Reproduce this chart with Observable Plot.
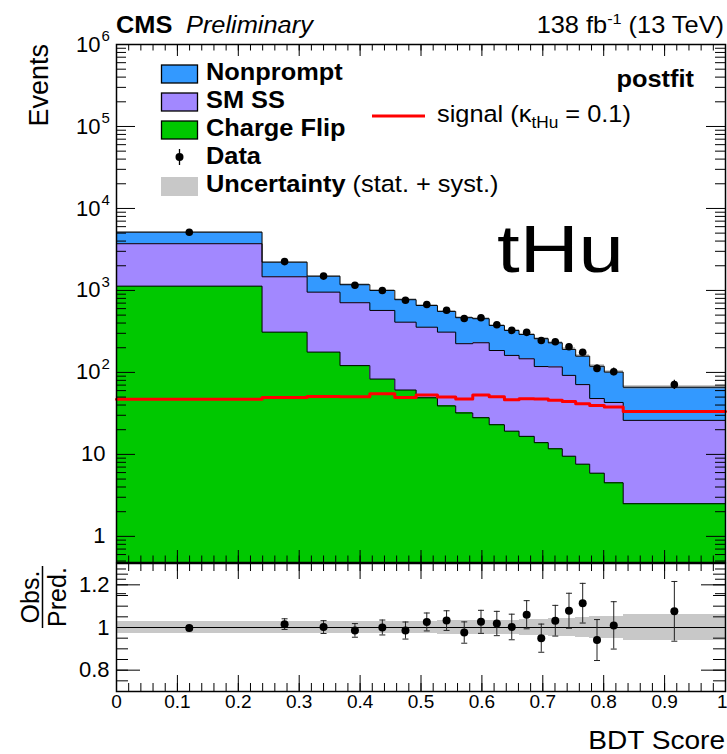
<!DOCTYPE html>
<html>
<head>
<meta charset="utf-8">
<script src="https://cdn.jsdelivr.net/npm/d3@7"></script>
<script src="https://cdn.jsdelivr.net/npm/@observablehq/plot@0.6"></script>
<style>
  html, body { margin: 0; padding: 0; background: #fff; }
  #chart { position: relative; width: 727px; height: 754px; overflow: hidden;
           font-family: "Liberation Sans", Arial, Helvetica, sans-serif; }
  #chart svg { position: absolute; left: 0; top: 0; }
</style>
</head>
<body>
<div id="chart"></div>
<script>
// ---- BDT score binning (20 variable-width bins) ----
const binEdges = [0, 0.239, 0.313, 0.367, 0.416, 0.457, 0.492, 0.527, 0.557, 0.585, 0.612,
                  0.637, 0.661, 0.686, 0.709, 0.732, 0.754, 0.777, 0.801, 0.832, 1.0];

// ---- postfit background yields per bin ----
const chargeFlip = [1128, 310, 177, 121, 83, 61, 49, 39, 32, 28, 23, 19.2, 16.6, 13.9, 11.7, 9.5, 7.6, 5.9, 4.5, 2.5];
const smSS       = [2587, 1158, 776, 587, 487, 349, 307, 271, 192, 202, 162, 142, 130, 104, 105, 82.5, 63.4, 42.1, 38.5, 23.5];
const nonprompt  = [1425, 745, 540, 466, 430, 361, 300, 245, 241, 222, 189, 164, 144, 140, 113, 99, 87, 71, 58, 40];

// ---- signal (kappa_tHu = 0.1) ----
const signal = [46.9, 49.6, 51, 50.5, 55, 49.6, 52.9, 50, 47.3, 52.9, 50.5, 46.5, 47.8, 47.3, 45.6, 44.3, 41.5, 39.6, 37.8, 33.4];

// ---- observed data and uncertainties ----
const observed = [5125, 2248, 1496, 1158, 1000, 760, 673, 573, 454, 464, 381, 326, 308, 245, 237, 206, 176, 112, 102, 71];
const ratioErr = [0.012, 0.025, 0.03, 0.032, 0.035, 0.04, 0.042, 0.046, 0.05, 0.054, 0.057, 0.06, 0.066, 0.066, 0.072, 0.082, 0.093, 0.096, 0.111, 0.14];
const bkgRelUnc = [0.028, 0.028, 0.029, 0.027, 0.027, 0.028, 0.030, 0.032, 0.033, 0.034, 0.035, 0.035, 0.036, 0.038, 0.040, 0.042, 0.046, 0.050, 0.052, 0.060];

// ---- axis ticks and labels ----
const xMajorTicks = [0, 0.1, 0.2, 0.3, 0.4, 0.5, 0.6, 0.7, 0.8, 0.9, 1];
const xTickLabels = ["0", "0.1", "0.2", "0.3", "0.4", "0.5", "0.6", "0.7", "0.8", "0.9", "1"];
const yDecades    = [1, 10, 100, 1e3, 1e4, 1e5, 1e6];
const yDecadeBase = ["1", "10", "10", "10", "10", "10", "10"];
const yDecadeExp  = ["", "", "2", "3", "4", "5", "6"];
const ratioTicks  = [0.8, 1, 1.2];
const ratioLabels = ["0.8", "1", "1.2"];

const colors = {
  nonprompt: "#3399ff",
  smss: "#a288ff",
  chargeFlip: "#00c800",
  signal: "#ff0000",
  band: "#c8c8c8"
};
const FONT = '"Liberation Sans", Arial, Helvetica, sans-serif';

// ---- derived per-bin table ----
const bins = binEdges.slice(0, -1).map((x1, i) => {
  const x2 = binEdges[i + 1];
  const cf = chargeFlip[i];
  const sm = cf + smSS[i];
  const tot = sm + nonprompt[i];
  const ratio = observed[i] / tot;
  return {
    x1, x2, xc: (x1 + x2) / 2, cf, sm, tot, sig: signal[i], obs: observed[i],
    obsLo: observed[i] - ratioErr[i] * tot, obsHi: observed[i] + ratioErr[i] * tot,
    bandLo: tot * (1 - bkgRelUnc[i]), bandHi: tot * (1 + bkgRelUnc[i]),
    ratio, rLo: ratio - ratioErr[i], rHi: ratio + ratioErr[i],
    uLo: 1 - bkgRelUnc[i], uHi: 1 + bkgRelUnc[i]
  };
});
const steps = key => bins.flatMap(b => [{x: b.x1, y: b[key]}, {x: b.x2, y: b[key]}]);

// ---- layout ----
const W = 727, H = 754, mL = 116, mR = 2;
const upTop = 44, upBottom = 562, loTop = 563, loBottom = 691;
const frameW = W - mL - mR;
const upH = upBottom - upTop, loH = loBottom - loTop;
const yMin = 0.48;

const yMinor = [];
for (const d of [0.1, 1, 10, 100, 1e3, 1e4, 1e5]) for (let k = 2; k <= 9; k++) yMinor.push(k * d);
const xMinor = d3.range(0, 51).map(i => i / 50);
const ratioMinor = d3.range(14, 27).map(i => i / 20);

const tickRules = (values, axis, len, side, extent) => {
  const o = {stroke: "#000", strokeWidth: 1};
  if (axis === "y") {
    o[side === "left" ? "insetRight" : "insetLeft"] = extent - len;
    return Plot.ruleY(values, o);
  }
  o[side === "top" ? "insetBottom" : "insetTop"] = extent - len;
  return Plot.ruleX(values, o);
};
const crisp = {shapeRendering: "crispEdges"};

// ---- upper panel: stacked backgrounds, signal, data ----
const upper = Plot.plot({
  width: W, height: H,
  marginLeft: mL, marginRight: mR, marginTop: upTop, marginBottom: H - upBottom,
  style: {background: "transparent", fontFamily: FONT, overflow: "visible"},
  x: {domain: [0, 1], axis: null},
  y: {type: "log", domain: [yMin, 1e6], axis: null},
  marks: [
    Plot.rect(bins, {x1: "x1", x2: "x2", y1: yMin, y2: "tot", fill: colors.nonprompt, ...crisp}),
    Plot.rect(bins, {x1: "x1", x2: "x2", y1: yMin, y2: "sm", fill: colors.smss, ...crisp}),
    Plot.rect(bins, {x1: "x1", x2: "x2", y1: yMin, y2: "cf", fill: colors.chargeFlip, ...crisp}),
    Plot.rect(bins, {x1: "x1", x2: "x2", y1: "bandLo", y2: "bandHi", fill: "#888", fillOpacity: 0.45, ...crisp}),
    Plot.line(steps("tot"), {x: "x", y: "y", stroke: "#000", strokeWidth: 1}),
    Plot.line(steps("sm"), {x: "x", y: "y", stroke: "#000", strokeWidth: 1}),
    Plot.line(steps("cf"), {x: "x", y: "y", stroke: "#000", strokeWidth: 1}),
    Plot.line(steps("sig"), {x: "x", y: "y", stroke: colors.signal, strokeWidth: 3}),
    Plot.ruleX(bins, {x: "xc", y1: "obsLo", y2: "obsHi", stroke: "#000", strokeWidth: 1.2}),
    Plot.dot(bins, {x: "xc", y: "obs", r: 3.8, fill: "#000"}),
    // ROOT-style inward ticks on all four sides
    tickRules(yDecades, "y", 19, "left", frameW),
    tickRules(yDecades, "y", 19, "right", frameW),
    tickRules(yMinor, "y", 10, "left", frameW),
    tickRules(yMinor, "y", 10, "right", frameW),
    tickRules(xMajorTicks, "x", 12, "top", upH),
    tickRules(xMajorTicks, "x", 12, "bottom", upH),
    tickRules(xMinor, "x", 6.5, "top", upH),
    tickRules(xMinor, "x", 6.5, "bottom", upH),
    Plot.frame({stroke: "#000", strokeWidth: 1.5}),
    // decade labels: plain ones and 10^n with a raised exponent
    Plot.text(yDecades.filter((d, i) => !yDecadeExp[i]), {
      y: d => d, text: d => yDecadeBase[yDecades.indexOf(d)],
      frameAnchor: "left", textAnchor: "end", dx: -11, fontSize: 22, fill: "#000"
    }),
    Plot.text(yDecades.filter((d, i) => yDecadeExp[i]), {
      y: d => d, text: d => yDecadeBase[yDecades.indexOf(d)],
      frameAnchor: "left", textAnchor: "end", dx: -16, fontSize: 22, fill: "#000"
    }),
    Plot.text(yDecades.filter((d, i) => yDecadeExp[i]), {
      y: d => d, text: d => yDecadeExp[yDecades.indexOf(d)],
      frameAnchor: "left", textAnchor: "start", dx: -15, dy: -8, fontSize: 15, fill: "#000"
    })
  ]
});

// ---- lower panel: Obs./Pred. ratio ----
const capSymbol = {draw(ctx) { ctx.moveTo(-3, 0); ctx.lineTo(3, 0); }};
const lastX = xMajorTicks.length - 1;
const lower = Plot.plot({
  width: W, height: H,
  marginLeft: mL, marginRight: mR, marginTop: loTop, marginBottom: H - loBottom,
  style: {background: "transparent", fontFamily: FONT, overflow: "visible"},
  x: {domain: [0, 1], axis: null},
  y: {domain: [0.7, 1.3], axis: null},
  marks: [
    Plot.rect(bins, {x1: "x1", x2: "x2", y1: "uLo", y2: "uHi", fill: colors.band, ...crisp}),
    Plot.ruleY([1], {stroke: "#000", strokeWidth: 1.2}),
    Plot.ruleX(bins, {x: "xc", y1: "rLo", y2: "rHi", stroke: "#222", strokeWidth: 1}),
    Plot.dot(bins, {x: "xc", y: "rLo", symbol: capSymbol, stroke: "#222", strokeWidth: 1}),
    Plot.dot(bins, {x: "xc", y: "rHi", symbol: capSymbol, stroke: "#222", strokeWidth: 1}),
    Plot.dot(bins, {x: "xc", y: "ratio", r: 4, fill: "#000"}),
    tickRules(ratioTicks, "y", 24, "left", frameW),
    tickRules(ratioTicks, "y", 24, "right", frameW),
    tickRules(ratioMinor, "y", 12, "left", frameW),
    tickRules(ratioMinor, "y", 12, "right", frameW),
    tickRules(xMajorTicks, "x", 16, "top", loH),
    tickRules(xMajorTicks, "x", 16, "bottom", loH),
    tickRules(xMinor, "x", 8, "top", loH),
    tickRules(xMinor, "x", 8, "bottom", loH),
    Plot.frame({stroke: "#000", strokeWidth: 1.5}),
    Plot.text(ratioTicks, {
      y: d => d, text: (d, i) => ratioLabels[i],
      frameAnchor: "left", textAnchor: "end", dx: -7, fontSize: 22, fill: "#000"
    }),
    Plot.text(xMajorTicks.slice(0, lastX), {
      x: d => d, text: (d, i) => xTickLabels[i],
      frameAnchor: "bottom", lineAnchor: "top", dy: 3, fontSize: 19, fill: "#000"
    }),
    // the last label sits against the right edge of the canvas
    Plot.text(xMajorTicks.slice(lastX), {
      x: d => d, text: () => xTickLabels[lastX],
      frameAnchor: "bottom", lineAnchor: "top", textAnchor: "end", dx: 2, dy: 3, fontSize: 19, fill: "#000"
    })
  ]
});

const chart = document.getElementById("chart");
chart.append(upper, lower);

// ---- titles, legend and annotations ----
const svg = d3.select(chart).append("svg")
  .attr("width", W).attr("height", H)
  .style("font-family", FONT);

const SX = 1.08;       // slightly wide Helvetica-style lettering
const FS = 23.5;
function label(x, y, {size = FS, weight = "normal", style = "normal", anchor = "start", sx = SX, rotate = 0} = {}) {
  const g = svg.append("g").attr("transform",
    `translate(${x},${y})` + (rotate ? ` rotate(${rotate})` : "") + (sx !== 1 ? ` scale(${sx},1)` : ""));
  return g.append("text")
    .attr("font-size", size).attr("font-weight", weight).attr("font-style", style)
    .attr("text-anchor", anchor).attr("fill", "#000");
}

// header
label(116, 33, {weight: "bold"}).text("CMS");
label(186, 33, {style: "italic"}).text("Preliminary");
const lumi = label(724, 33, {anchor: "end"});
lumi.append("tspan").text("138 fb");
lumi.append("tspan").attr("dy", -9).attr("font-size", 15).text("-1");
lumi.append("tspan").attr("dy", 9).text(" (13 TeV)");

// legend (left column)
const legendRows = [
  {name: "Nonprompt", fill: colors.nonprompt, y: 80},
  {name: "SM SS", fill: colors.smss, y: 108},
  {name: "Charge Flip", fill: colors.chargeFlip, y: 136}
];
for (const r of legendRows) {
  svg.append("rect").attr("x", 161.5).attr("y", r.y - 15).attr("width", 36).attr("height", 18)
    .attr("fill", r.fill).attr("stroke", "#000").attr("stroke-width", 1.3);
  label(206, r.y, {weight: "bold"}).text(r.name);
}
svg.append("line").attr("x1", 179.5).attr("x2", 179.5).attr("y1", 149).attr("y2", 165)
  .attr("stroke", "#000").attr("stroke-width", 1.3);
svg.append("circle").attr("cx", 179.5).attr("cy", 157).attr("r", 4).attr("fill", "#000");
label(206, 164, {weight: "bold"}).text("Data");
svg.append("rect").attr("x", 161).attr("y", 177).attr("width", 37).attr("height", 19).attr("fill", colors.band);
const unc = label(206, 192);
unc.append("tspan").attr("font-weight", "bold").text("Uncertainty");
unc.append("tspan").text(" (stat. + syst.)");

// signal legend
svg.append("line").attr("x1", 372).attr("x2", 425).attr("y1", 116).attr("y2", 116)
  .attr("stroke", colors.signal).attr("stroke-width", 3);
const sig = label(437, 122);
sig.append("tspan").text("signal (\u03BA");
sig.append("tspan").attr("dy", 6).attr("font-size", 16).text("tHu");
sig.append("tspan").attr("dy", -6).text(" = 0.1)");

label(694, 87, {weight: "bold", anchor: "end"}).text("postfit");

svg.append("text").attr("x", 497).attr("y", 272).attr("font-size", 66)
  .attr("textLength", 127).attr("lengthAdjust", "spacingAndGlyphs").attr("fill", "#000").text("tHu");

// axis titles
label(48, 44, {size: 27, anchor: "end", rotate: -90, sx: 1}).text("Events");
label(725, 749, {size: 26, anchor: "end"}).text("BDT Score");
label(39, 597, {size: 25, anchor: "middle", rotate: -90, sx: 1}).text("Obs.");
label(66, 597, {size: 25, anchor: "middle", rotate: -90, sx: 1}).text("Pred.");
svg.append("line").attr("x1", 42.5).attr("x2", 42.5).attr("y1", 566).attr("y2", 628)
  .attr("stroke", "#000").attr("stroke-width", 1.5);
</script>
</body>
</html>
